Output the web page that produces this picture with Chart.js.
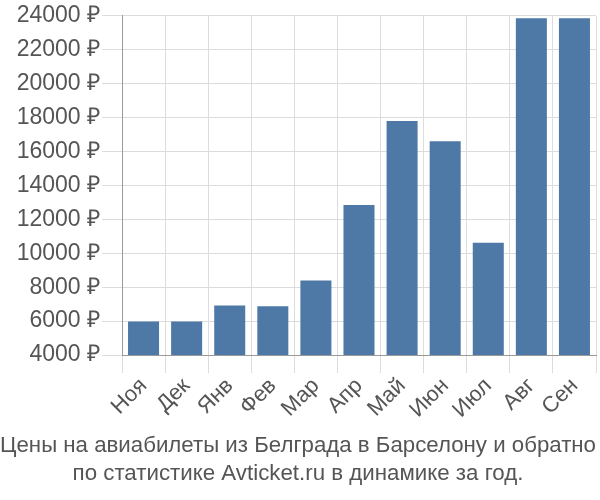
<!DOCTYPE html>
<html>
<head>
<meta charset="utf-8">
<script src="https://cdn.jsdelivr.net/npm/chart.js@4"></script>
<style>
  html, body { margin: 0; padding: 0; background: #fff; }
  #wrap { width: 600px; height: 500px; }
</style>
</head>
<body>
<div id="wrap"><canvas id="chart" width="600" height="500"></canvas></div>
<script>
// monthly prices, rubles
const months = ['Ноя', 'Дек', 'Янв', 'Фев', 'Мар', 'Апр', 'Май', 'Июн', 'Июл', 'Авг', 'Сен'];
const prices = [5970, 5980, 6920, 6880, 8400, 12850, 17800, 16600, 10620, 23860, 23860];
const titleLines = [
  'Цены на авиабилеты из Белграда в Барселону и обратно',
  'по статистике Avticket.ru в динамике за год.'
];

const FONT = '"Liberation Sans", Arial, sans-serif';
const GREY = '#555';

new Chart(document.getElementById('chart'), {
  type: 'bar',
  data: {
    labels: months,
    datasets: [{
      data: prices,
      backgroundColor: '#4e78a6',
      barPercentage: 0.72,
      categoryPercentage: 1.0,
    }],
  },
  options: {
    responsive: false,
    animation: false,
    layout: { padding: { top: 14, right: 4, left: 0, bottom: 0 } },
    plugins: {
      legend: { display: false },
      tooltip: { enabled: false },
      title: {
        display: true,
        position: 'bottom',
        text: titleLines,
        color: GREY,
        font: { family: FONT, size: 22.3, weight: 'normal', lineHeight: 28 / 22.3 },
        padding: { top: 0, bottom: 12 },
      },
    },
    scales: {
      x: {
        grid: { color: '#dcdcdc', lineWidth: 1, tickLength: 18, offset: true },
        border: { color: '#999', width: 1 },
        ticks: {
          color: GREY,
          font: { family: FONT, size: 22 },
          minRotation: 45,
          maxRotation: 45,
          padding: 0,
        },
        afterFit: (scale) => { scale.height = 77; },
      },
      y: {
        min: 4000,
        max: 24000,
        grid: { color: '#dcdcdc', lineWidth: 1, tickLength: 20 },
        border: { color: '#999', width: 1 },
        ticks: {
          stepSize: 2000,
          color: GREY,
          font: { family: FONT, size: 23 },
          padding: 2,
          callback: (v) => v + ' ₽',
        },
        afterFit: (scale) => { scale.width = 122; },
      },
    },
  },
});
</script>
</body>
</html>
